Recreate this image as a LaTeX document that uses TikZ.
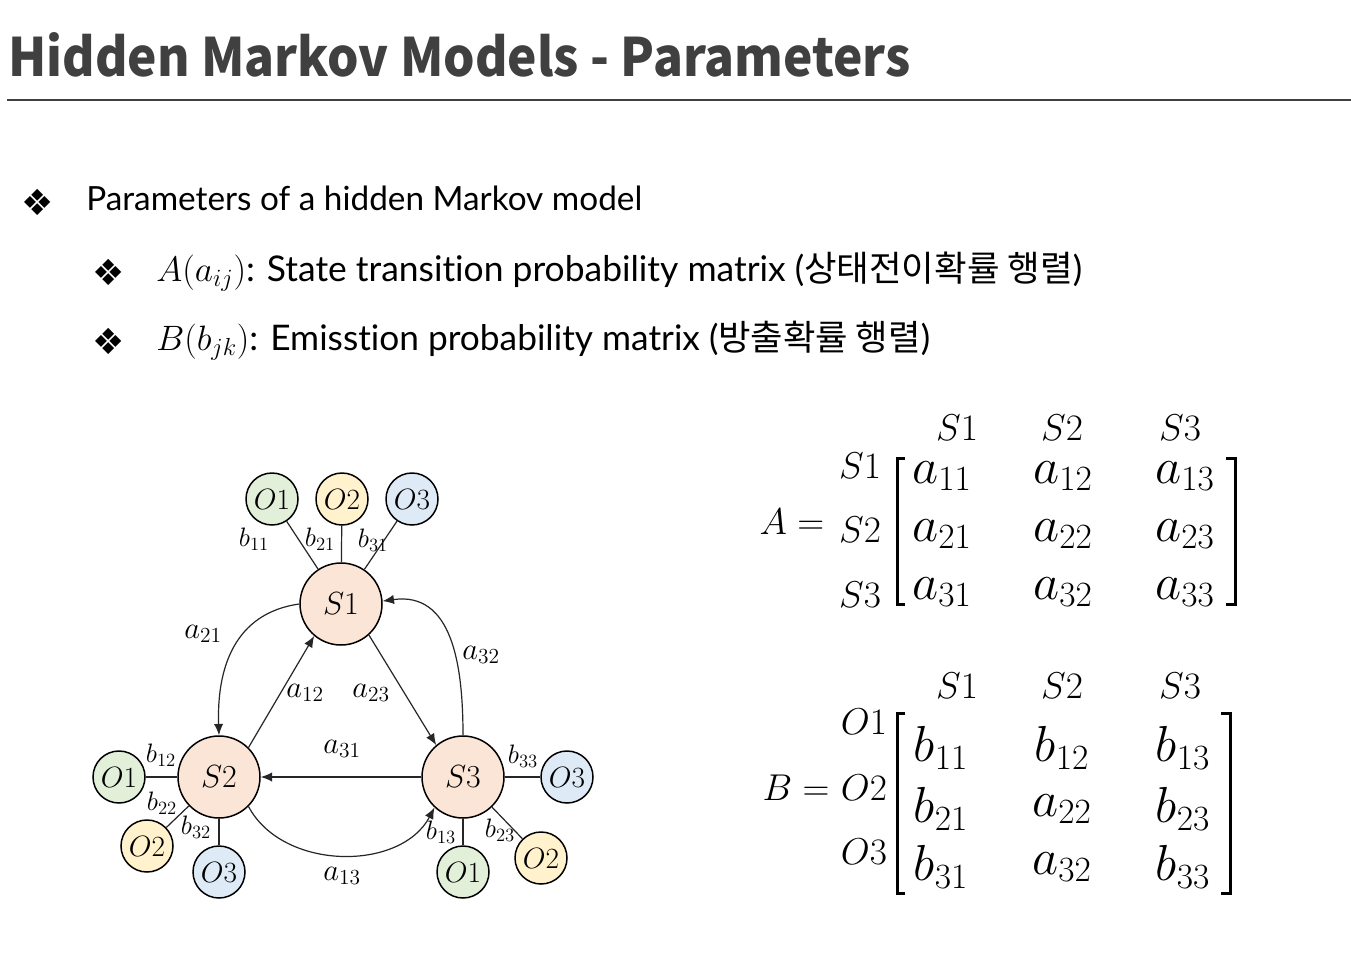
\RequirePackage{fix-cm}
\documentclass[tikz,border=0pt]{standalone}
\usepackage{graphicx}
\usepackage{fontspec}
\setmainfont{Lato}[Ligatures=NoCommon]
\newfontfamily\titlefont{Noto Sans CJK KR}
\newfontfamily\krfont{Noto Sans CJK KR}
\newfontfamily\symfont{DejaVu Sans}
\usetikzlibrary{arrows.meta}
\newlength\upx
\setlength\upx{0.75pt}
\definecolor{sfill}{HTML}{FBE5D6}
\definecolor{ofillA}{HTML}{E2F0D9}
\definecolor{ofillB}{HTML}{FFF2CC}
\definecolor{ofillC}{HTML}{DEEBF7}
\definecolor{titlegray}{HTML}{404040}
\tikzset{
  snode/.style={circle, draw=black, fill=sfill, line width=1.5\upx, minimum size=82\upx, inner sep=0pt, font=\fontsize{24}{24}\selectfont},
  onode/.style={circle, draw=black, line width=1.5\upx, minimum size=52\upx, inner sep=0pt, font=\fontsize{22}{22}\selectfont},
  blabel/.style={inner sep=0pt, font=\fontsize{20}{20}\selectfont},
  alabel/.style={inner sep=0pt, font=\fontsize{23}{23}\selectfont},
  emit/.style={line width=1.2\upx, draw=black!85},
  trans/.style={line width=1.2\upx, draw=black!85, -{Latex[length=8.5pt,width=7pt]}},
  bullet/.style={inner sep=0pt, font=\symfont\fontsize{27}{27}\selectfont, text=black},
  bodytext/.style={anchor=base west, inner sep=0pt},
  entry/.style={inner sep=0pt, font=\fontsize{38}{38}\selectfont},
  header/.style={inner sep=0pt, font=\fontsize{28}{28}\selectfont},
  bracket/.style={line width=3\upx, draw=black},
}
\begin{document}
\begin{tikzpicture}[x=0.75pt,y=-0.75pt]
\path[use as bounding box, fill=white] (0,0) rectangle (1351,977);

% title
\node[anchor=base west, inner sep=0pt, text=titlegray] (title) at (8,77)
  {\resizebox{902\upx}{44\upx}{\titlefont\bfseries Hidden Markov Models - Parameters}};
\coordinate (ruleL) at (7,100);
\coordinate (ruleR) at (1351,100);
\draw[line width=2\upx, titlegray] (ruleL) -- (ruleR);

% bullets
\node[bullet] (bu1) at (38,202) {❖};
\node[bullet] (bu2) at (109,272) {❖};
\node[bullet] (bu3) at (109,341) {❖};
\node[bodytext] (l1) at (86,210)
  {\resizebox{556\upx}{!}{\fontsize{24}{24}\selectfont Parameters of a hidden Markov model}};
\node[bodytext] (l2) at (156,281)
  {\resizebox{926\upx}{!}{\fontsize{24}{24}\selectfont $A(a_{ij})$: State transition probability matrix ({\krfont 상태전이확률 행렬})}};
\node[bodytext] (l3) at (156,350)
  {\resizebox{774\upx}{!}{\fontsize{24}{24}\selectfont $B(b_{jk})$: Emisstion probability matrix ({\krfont 방출확률 행렬})}};

% states
\node[snode] (S1) at (341,604) {$S1$};
\node[snode] (S2) at (219,777) {$S2$};
\node[snode] (S3) at (463,777) {$S3$};
% observations
\node[onode, fill=ofillA] (O11) at (272,499) {$O1$};
\node[onode, fill=ofillB] (O12) at (342,499) {$O2$};
\node[onode, fill=ofillC] (O13) at (412,499) {$O3$};
\node[onode, fill=ofillA] (O21) at (119,777) {$O1$};
\node[onode, fill=ofillB] (O22) at (147,846) {$O2$};
\node[onode, fill=ofillC] (O23) at (219,872) {$O3$};
\node[onode, fill=ofillA] (O31) at (463,872) {$O1$};
\node[onode, fill=ofillB] (O32) at (541,858) {$O2$};
\node[onode, fill=ofillC] (O33) at (567,777) {$O3$};

% emission edges
\draw[emit] (S1) -- (O11);
\draw[emit] (S1) -- (O12);
\draw[emit] (S1) -- (O13);
\draw[emit] (S2) -- (O21);
\draw[emit] (S2) -- (O22);
\draw[emit] (S2) -- (O23);
\draw[emit] (S3) -- (O31);
\draw[emit] (S3) -- (O32);
\draw[emit] (S3) -- (O33);

% emission labels
\node[blabel] (lb11) at (254,539) {$b_{11}$};
\node[blabel] (lb21) at (320,539) {$b_{21}$};
\node[blabel] (lb31) at (373,540) {$b_{31}$};
\node[blabel] (lb12) at (161,755) {$b_{12}$};
\node[blabel] (lb22) at (162,803) {$b_{22}$};
\node[blabel] (lb32) at (196,827) {$b_{32}$};
\node[blabel] (lb13) at (441,832) {$b_{13}$};
\node[blabel] (lb23) at (500,830) {$b_{23}$};
\node[blabel] (lb33) at (523,756) {$b_{33}$};

% transitions
\draw[trans] (S1.west) to[out=188,in=92,looseness=1.1] (S2.north);
\draw[trans] (S2.45) -- (S1.230);
\draw[trans] (S1.-48) -- (S3.130);
\draw[trans] (S3.north) to[out=90,in=8,looseness=1.15] (S1.4);
\draw[trans] (S3) -- (S2);
\draw[trans] (S2.-45) to[out=-62,in=-118] (S3.-133);

% transition labels
\node[alabel] (la21) at (203,634) {$a_{21}$};
\node[alabel] (la12) at (305,693) {$a_{12}$};
\node[alabel] (la23) at (371,693) {$a_{23}$};
\node[alabel] (la32) at (481,655) {$a_{32}$};
\node[alabel] (la31) at (342,749) {$a_{31}$};
\node[alabel] (la13) at (342,876) {$a_{13}$};

% matrix A
\node[header] (Aeq) at (792,522) {$A =$};
\node[header] (Ac1) at (957,428) {$S1$};
\node[header] (Ac2) at (1062,428) {$S2$};
\node[header] (Ac3) at (1180,428) {$S3$};
\node[header] (Ar1) at (860,466) {$S1$};
\node[header] (Ar2) at (860,530) {$S2$};
\node[header] (Ar3) at (860,595) {$S3$};
\node[entry] (a11) at (942,476) {$a_{11}$};
\node[entry] (a12) at (1063,476) {$a_{12}$};
\node[entry] (a13) at (1185,476) {$a_{13}$};
\node[entry] (a21) at (942,534) {$a_{21}$};
\node[entry] (a22) at (1063,534) {$a_{22}$};
\node[entry] (a23) at (1185,534) {$a_{23}$};
\node[entry] (a31) at (942,592) {$a_{31}$};
\node[entry] (a32) at (1063,592) {$a_{32}$};
\node[entry] (a33) at (1185,592) {$a_{33}$};
\draw[bracket] (905,458) -- (897,458) -- (897,604) -- (905,604);
\draw[bracket] (1226,458) -- (1235,458) -- (1235,604) -- (1226,604);

% matrix B
\node[header] (Beq) at (796,788) {$B =$};
\node[header] (Bc1) at (957,686) {$S1$};
\node[header] (Bc2) at (1062,686) {$S2$};
\node[header] (Bc3) at (1180,686) {$S3$};
\node[header] (Br1) at (864,722) {$O1$};
\node[header] (Br2) at (864,788) {$O2$};
\node[header] (Br3) at (864,852) {$O3$};
\node[entry] (b11) at (941,748) {$b_{11}$};
\node[entry] (b12) at (1062,748) {$b_{12}$};
\node[entry] (b13) at (1183,748) {$b_{13}$};
\node[entry] (b21) at (941,809) {$b_{21}$};
\node[entry] (b22) at (1062,809) {$a_{22}$};
\node[entry] (b23) at (1183,809) {$b_{23}$};
\node[entry] (b31) at (941,867) {$b_{31}$};
\node[entry] (b32) at (1062,867) {$a_{32}$};
\node[entry] (b33) at (1183,867) {$b_{33}$};
\draw[bracket] (905,713) -- (897,713) -- (897,893) -- (905,893);
\draw[bracket] (1221,713) -- (1230,713) -- (1230,893) -- (1221,893);
\end{tikzpicture}
\end{document}
